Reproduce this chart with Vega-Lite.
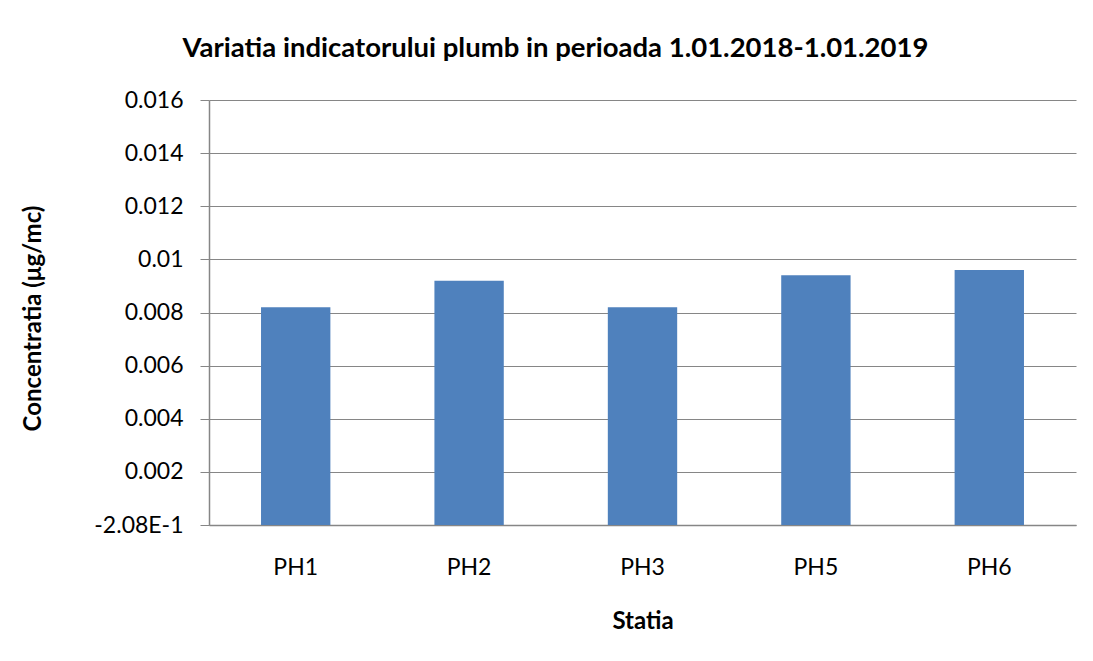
{
  "$schema": "https://vega.github.io/schema/vega-lite/v6.json",
  "autosize": {"type": "none"},
  "width": 867,
  "height": 425,
  "padding": {"left": 209, "top": 100, "right": 17, "bottom": 136},
  "background": "white",
  "title": {
    "text": "Variatia indicatorului plumb in perioada 1.01.2018-1.01.2019",
    "font": "Lato",
    "fontSize": 27.5,
    "fontWeight": "bold",
    "color": "#000000",
    "anchor": "middle",
    "frame": "group",
    "dx": -87,
    "offset": 27
  },
  "data": {
    "values": [
      {"Statia": "PH1", "Concentratia": 0.0082},
      {"Statia": "PH2", "Concentratia": 0.0092},
      {"Statia": "PH3", "Concentratia": 0.0082},
      {"Statia": "PH5", "Concentratia": 0.0094},
      {"Statia": "PH6", "Concentratia": 0.0096}
    ]
  },
  "mark": {"type": "bar", "color": "#4F81BD"},
  "encoding": {
    "x": {
      "field": "Statia",
      "type": "nominal",
      "sort": null,
      "scale": {"paddingInner": 0.6, "paddingOuter": 0.3},
      "axis": {
        "title": "Statia",
        "labelAngle": 0,
        "ticks": false,
        "labelPadding": 31,
        "labelFont": "Lato",
        "labelFontSize": 23,
        "labelColor": "#000000",
        "domainColor": "#868686",
        "domainWidth": 1.5,
        "titleFont": "Lato",
        "titleFontSize": 24,
        "titleFontWeight": "bold",
        "titleColor": "#000000",
        "titleY": 96,
        "titleBaseline": "middle"
      }
    },
    "y": {
      "field": "Concentratia",
      "type": "quantitative",
      "scale": {"domain": [0, 0.016], "nice": false},
      "axis": {
        "title": "Concentratia (μg/mc)",
        "values": [0, 0.002, 0.004, 0.006, 0.008, 0.01, 0.012, 0.014, 0.016],
        "labelExpr": "datum.value == 0 ? '-2.08E-1' : format(datum.value, '.3~f')",
        "labelFont": "Lato",
        "labelFontSize": 23,
        "labelColor": "#000000",
        "labelPadding": 17,
        "tickSize": 9,
        "tickColor": "#868686",
        "domainColor": "#868686",
        "domainWidth": 1.5,
        "grid": true,
        "gridColor": "#868686",
        "gridWidth": 1,
        "titleFont": "Lato",
        "titleFontSize": 24,
        "titleFontWeight": "bold",
        "titleColor": "#000000",
        "titleX": -176,
        "titleY": 218,
        "titleBaseline": "middle"
      }
    }
  },
  "config": {"view": {"stroke": null}}
}
